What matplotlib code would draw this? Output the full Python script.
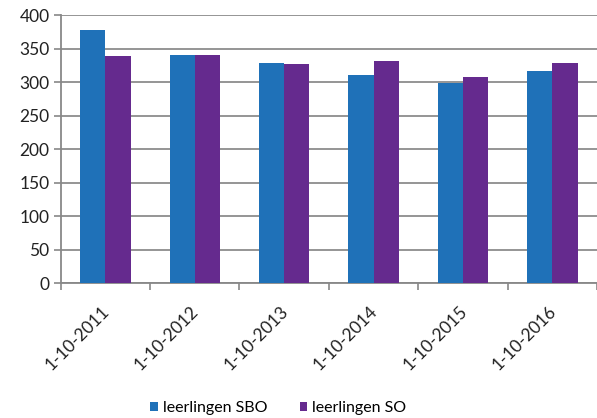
import matplotlib
matplotlib.use("Agg")
import matplotlib.pyplot as plt
import matplotlib.transforms as mtransforms
import numpy as np

categories = ["1-10-2011", "1-10-2012", "1-10-2013", "1-10-2014", "1-10-2015", "1-10-2016"]
sbo = [377, 341, 328, 311, 298, 317]
so = [339, 340, 327, 331, 308, 329]
series_names = ["leerlingen SBO", "leerlingen SO"]
yticks = [0, 50, 100, 150, 200, 250, 300, 350, 400]

plt.rcParams['font.family'] = ['Lato', 'DejaVu Sans']

fig = plt.figure(figsize=(5.97, 4.18), dpi=100)
ax = fig.add_axes([0.1017, 0.3222, 0.8983, 0.6418])

x = np.arange(len(categories))
w = 0.282
blue = "#1F71B8"
purple = "#652A8E"
ax.bar(x - w/2, sbo, width=w, color=blue, label=series_names[0], zorder=3)
ax.bar(x + w/2, so, width=w, color=purple, label=series_names[1], zorder=3)

ax.set_xlim(-0.5, len(categories) - 0.5)
ax.set_ylim(0, 400)
ax.set_yticks(yticks)
ax.set_yticklabels([str(v) for v in yticks], fontsize=12.5, color="#222222")
ax.tick_params(axis='y', length=5, width=1.2, color="#888888", pad=3)

ax.yaxis.grid(True, color="#8c8c8c", linewidth=1.3, zorder=0)
ax.set_axisbelow(True)

ax.set_xticks(x)
ax.set_xticks(np.arange(-0.5, len(categories)), minor=True)
ax.tick_params(axis='x', which='major', length=0, pad=14)
ax.tick_params(axis='x', which='minor', length=5, width=1.2, color="#888888")
labels = ax.set_xticklabels(categories, rotation=45, ha='right', rotation_mode='anchor',
                            fontsize=12.5, color="#222222")
offset = mtransforms.ScaledTranslation(-3/72, 0, fig.dpi_scale_trans)
for lab in labels:
    lab.set_transform(lab.get_transform() + offset)

for s in ['top', 'right']:
    ax.spines[s].set_visible(False)
for s in ['left', 'bottom']:
    ax.spines[s].set_color("#888888")
    ax.spines[s].set_linewidth(1.3)

leg = fig.legend(loc='center', bbox_to_anchor=(0.4665, 0.024), ncol=2, frameon=False,
                 fontsize=11.5, handlelength=0.45, handleheight=0.45, handletextpad=0.35,
                 columnspacing=2.0)

fig.savefig("out.png", dpi=100)
